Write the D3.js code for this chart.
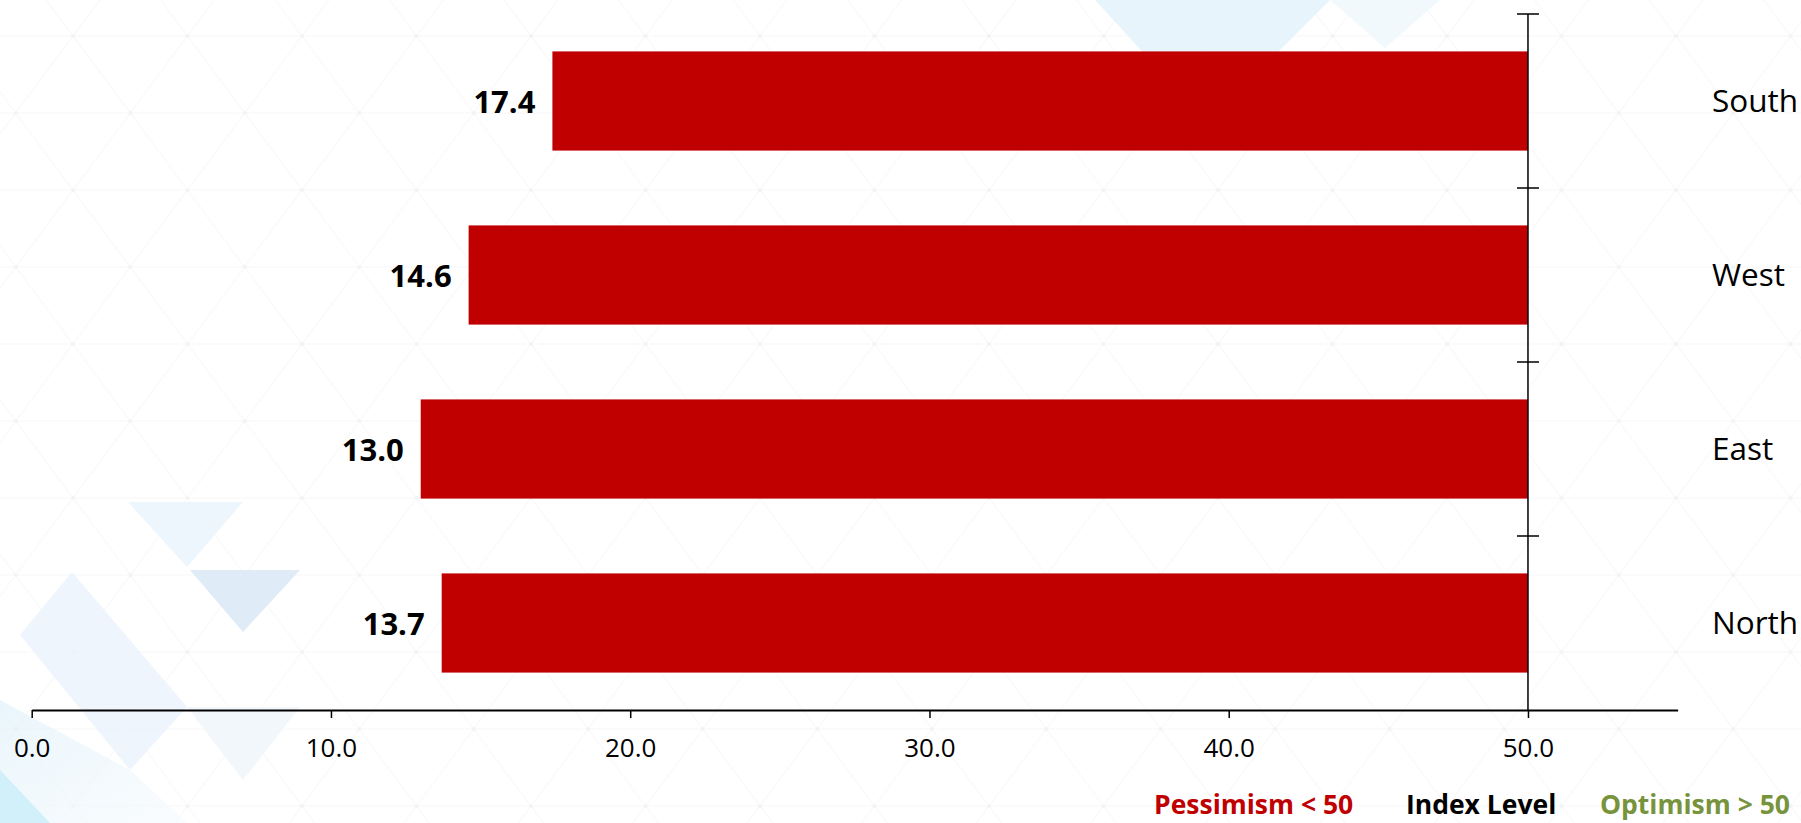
<!DOCTYPE html>
<html>
<head>
<meta charset="utf-8">
<script src="https://cdn.jsdelivr.net/npm/d3@7/dist/d3.min.js"></script>
<style>
  html, body { margin: 0; padding: 0; background: #fff; }
  svg { display: block; font-family: "Open Sans", sans-serif; }
</style>
</head>
<body>
<svg id="chart" width="1801" height="823"></svg>
<script>
const width = 1801;
const height = 823;

// data
const regions = ["South", "West", "East", "North"];
const values = [17.4, 14.6, 13.0, 13.7];
const xTicks = [0, 10, 20, 30, 40, 50];
const xMax = 55;
const baseline = 50;
const legendLabels = ["Pessimism < 50", "Index Level", "Optimism > 50"];
const legendColors = ["#c00000", "#000000", "#77933c"];

const barColor = "#c00000";

const svg = d3.select("#chart");

// faint triangle lattice in the background
const defs = svg.append("defs");
const pat = defs.append("pattern")
  .attr("id", "lattice")
  .attr("patternUnits", "userSpaceOnUse")
  .attr("x", 73).attr("y", 36)
  .attr("width", 114.5).attr("height", 154);
pat.append("path")
  .attr("d", "M0,0H114.5M0,77H114.5M0,154H114.5M0,0L57.25,77L0,154M114.5,0L57.25,77L114.5,154")
  .attr("fill", "none")
  .attr("stroke", "#f2f2f2")
  .attr("stroke-width", 1);
[[0, 0], [114.5, 0], [57.25, 77], [0, 154], [114.5, 154]].forEach(([cx, cy]) => {
  pat.append("circle").attr("cx", cx).attr("cy", cy).attr("r", 2).attr("fill", "#ebebeb");
});

const grad = defs.append("linearGradient")
  .attr("id", "blueFade").attr("x1", 0).attr("y1", 0).attr("x2", 1).attr("y2", 1);
grad.append("stop").attr("offset", "0%").attr("stop-color", "#dcf0fa");
grad.append("stop").attr("offset", "100%").attr("stop-color", "#f6fafd");

svg.append("rect").attr("width", width).attr("height", height).attr("fill", "#fff");
svg.append("rect").attr("width", width).attr("height", height).attr("fill", "url(#lattice)").attr("opacity", 0.6);

// soft blue decoration
const decor = [
  { pts: "1095,0 1330,0 1270,60 1150,60", fill: "#e3f2fa", op: 0.85 },
  { pts: "1330,0 1440,0 1385,48", fill: "#edf7fc", op: 0.8 },
  { pts: "128,502 243,502 187,567", fill: "#eaf5fb", op: 0.85 },
  { pts: "190,570 300,570 243,632", fill: "#dbe9f6", op: 0.9 },
  { pts: "72,572 20,635 130,770 187,707", fill: "#eaf3fb", op: 0.8 },
  { pts: "0,700 130,770 187,823 0,823", fill: "url(#blueFade)", op: 0.6 },
  { pts: "0,770 0,823 50,823", fill: "#cdeef8", op: 0.9 },
  { pts: "187,707 300,707 243,780", fill: "#f0f6fb", op: 0.9 }
];
svg.append("g").selectAll("polygon")
  .data(decor)
  .join("polygon")
  .attr("points", d => d.pts)
  .attr("fill", d => d.fill)
  .attr("opacity", d => d.op);

// scales
const x = d3.scaleLinear().domain([0, xMax]).range([31.7, 1677.6]);
const y = d3.scaleBand().domain(regions).range([14, 710])
  .paddingInner(0.43).paddingOuter(0.215);

// bars run from the index level (50) back to the value
svg.append("g").selectAll("rect")
  .data(regions)
  .join("rect")
  .attr("x", (d, i) => x(values[i]))
  .attr("y", d => y(d))
  .attr("width", (d, i) => x(baseline) - x(values[i]))
  .attr("height", y.bandwidth())
  .attr("fill", barColor);

// value labels
svg.append("g").selectAll("text")
  .data(regions)
  .join("text")
  .attr("x", (d, i) => x(values[i]) - 17)
  .attr("y", d => y(d) + y.bandwidth() / 2)
  .attr("dy", "0.38em")
  .attr("text-anchor", "end")
  .attr("font-size", 31)
  .attr("font-weight", 700)
  .attr("fill", "#000")
  .text((d, i) => values[i].toFixed(1));

// x axis
const xAxis = svg.append("g")
  .attr("transform", `translate(0,${y.range()[1]})`)
  .call(d3.axisBottom(x)
    .tickValues(xTicks)
    .tickFormat(d3.format(".1f"))
    .tickSizeInner(8)
    .tickSizeOuter(0)
    .tickPadding(21));
xAxis.select(".domain").attr("stroke", "#000").attr("stroke-width", 2);
xAxis.selectAll(".tick line").attr("stroke", "#000").attr("stroke-width", 1.5);
xAxis.selectAll(".tick text")
  .attr("font-family", "'Open Sans', sans-serif")
  .attr("font-size", 26)
  .attr("fill", "#000");

// category axis sitting at the index level
const yAxis = svg.append("g").attr("transform", `translate(${x(baseline)},0)`);
yAxis.append("line")
  .attr("y1", y.range()[0]).attr("y2", y.range()[1])
  .attr("stroke", "#000").attr("stroke-width", 1.5);
const bounds = d3.range(regions.length).map(i => y.range()[0] + i * y.step());
yAxis.selectAll(".sep")
  .data(bounds)
  .join("line")
  .attr("class", "sep")
  .attr("x1", -11).attr("x2", 11)
  .attr("y1", d => d).attr("y2", d => d)
  .attr("stroke", "#000").attr("stroke-width", 1.5);

// category labels on the right
svg.append("g").selectAll("text")
  .data(regions)
  .join("text")
  .attr("x", 1712)
  .attr("y", d => y(d) + y.bandwidth() / 2)
  .attr("dy", "0.35em")
  .attr("font-size", 31.5)
  .attr("fill", "#000")
  .text(d => d);

// legend line under the axis
const legendX = [1154, 1406, 1600];
svg.append("g").selectAll("text")
  .data(legendLabels)
  .join("text")
  .attr("x", (d, i) => legendX[i])
  .attr("y", 814)
  .attr("font-size", 26.5)
  .attr("font-weight", 700)
  .attr("fill", (d, i) => legendColors[i])
  .text(d => d);
</script>
</body>
</html>
